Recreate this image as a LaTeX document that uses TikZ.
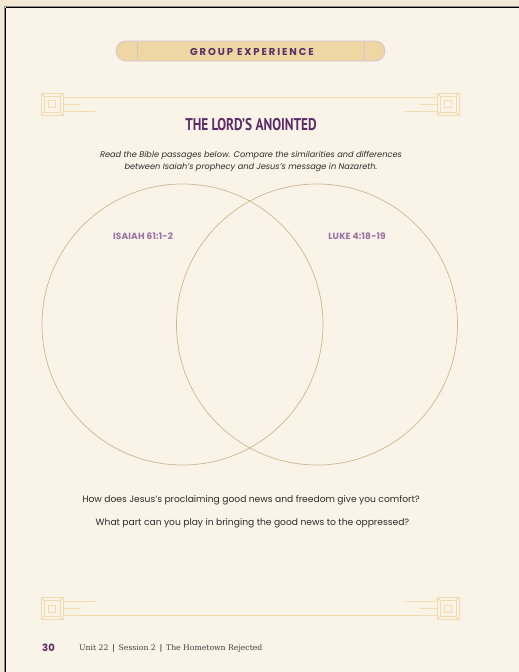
\documentclass[tikz,border=0pt]{standalone}
\usepackage{fontspec}
\setsansfont{Poppins}
\newfontfamily\titlefont{PT Sans}
\newfontfamily\footfont{DejaVu Serif}
\usepackage{tikz}
\usetikzlibrary{positioning}

\definecolor{outerbg}{HTML}{F3E8D4}
\definecolor{pagebg}{HTML}{FAF3E8}
\definecolor{gold}{HTML}{F0DCAF}
\definecolor{pillfill}{HTML}{EFD7A4}
\definecolor{pilledge}{HTML}{D6C4D6}
\definecolor{ringcol}{HTML}{CDB88E}
\definecolor{darkpurple}{HTML}{5B2D68}
\definecolor{lightpurple}{HTML}{9A72A2}
\definecolor{bodytext}{HTML}{2E2A2A}

\tikzset{
  ornament/.style={gold, line width=0.8pt},
  ring/.style={ringcol, line width=0.7pt},
  passage/.style={lightpurple, font=\sffamily\fontsize{9}{10}\selectfont\bfseries\addfontfeature{LetterSpace=2}},
  question/.style={bodytext, font=\sffamily\fontsize{9.15}{10}\selectfont}
}

\begin{document}
\begin{tikzpicture}[x=1pt,y=-1pt]
\useasboundingbox (0,0) rectangle (519,672);
\fill[outerbg] (0,0) rectangle (519,672);
\fill[pagebg] (5,7) rectangle (519,672);
\draw[black!45, line width=1pt] (4,6) -- (519,6);
\draw[black!45, line width=1pt] (4,6) -- (4,672);
\draw[black, line width=1.2pt] (5.5,7.5) -- (519,7.5);
\draw[black, line width=1.2pt] (5.5,7.5) -- (5.5,672);

\draw[pilledge, fill=pillfill, line width=0.8pt, rounded corners=10pt] (116,41) rectangle (385,61);
\draw[pilledge, line width=0.8pt] (137,41) -- (137,61);
\draw[pilledge, line width=0.8pt] (364,41) -- (364,61);
\node[darkpurple, font=\sffamily\fontsize{10}{10}\selectfont\bfseries\addfontfeature{LetterSpace=19}] (banner) at (252,51.5) {GROUP EXPERIENCE};

\foreach \ox/\oy/\h/\v in {52/104/1/1, 448/104/-1/1, 52/608.5/1/-1, 448/608.5/-1/-1} {
  \begin{scope}[shift={(\ox,\oy)}, xscale=\h, yscale=\v, ornament]
    \draw (-11,-11) rectangle (11,11);
    \draw (-8,-8) rectangle (8,8);
    \draw (-3.5,-3.5) rectangle (3.5,3.5);
    \foreach \a/\b in {1/1, 1/-1, -1/1, -1/-1}
      \draw (11*\a,11*\b) -- (8*\a,8*\b);
    \draw (11,0.5) -- (28,0.5);
    \draw (11,7) -- (43,7);
  \end{scope}
}
\draw[ornament] (63,97) -- (437,97);
\draw[ornament] (63,615) -- (437,615);

\node[darkpurple, font=\titlefont\fontsize{17}{20}\selectfont\bfseries, xscale=0.78] (title) at (251,125) {THE LORD’S ANOINTED};

\node[bodytext, align=center, font=\sffamily\itshape\fontsize{8.2}{12}\selectfont] (intro) at (251,161) {Read the Bible passages below. Compare the similarities and differences\\between Isaiah’s prophecy and Jesus’s message in Nazareth.};

\coordinate (isaiah) at (182.5,324.5);
\coordinate (luke) at (317,324.5);
\draw[ring] (isaiah) circle [radius=140.5];
\draw[ring] (luke) circle [radius=140.5];

\node[passage] (isaiahlabel) at (143,236) {ISAIAH 61:1-2};
\node[passage] (lukelabel) at (357,236) {LUKE 4:18-19};

\node[question] (comfort) at (251,500) {How does Jesus’s proclaiming good news and freedom give you comfort?};
\node[question] (oppressed) at (252.5,523) {What part can you play in bringing the good news to the oppressed?};

\node[darkpurple, font=\sffamily\fontsize{10}{12}\selectfont\bfseries] (pagenum) at (48.5,647.5) {30};
\node[black!75, font=\footfont\fontsize{7.7}{8}\selectfont, anchor=west, inner sep=0pt] (footer) at (79,648) {Unit 22 \,\textbf{|}\, Session 2 \,\textbf{|}\, The Hometown Rejected};
\end{tikzpicture}
\end{document}
